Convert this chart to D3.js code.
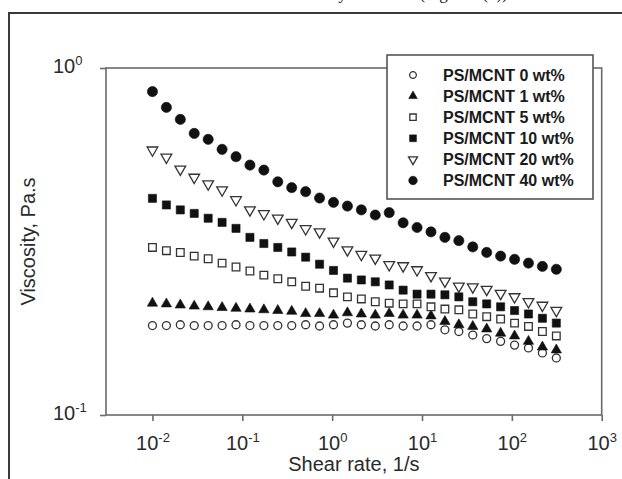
<!DOCTYPE html>
<html>
<head>
<meta charset="utf-8">
<script src="https://cdn.jsdelivr.net/npm/d3@7"></script>
<style>
  body { margin: 0; background: #fff; }
  svg { display: block; font-family: Arial, "Liberation Sans", sans-serif; }
</style>
</head>
<body>
<script>
// shear rate, 1/s (same sweep for every sample)
const shearRate = [0.0100, 0.01429, 0.02042, 0.02917, 0.04169, 0.05957, 0.08511, 0.1216, 0.1738, 0.2483,
                   0.3548, 0.5070, 0.7244, 1.035, 1.479, 2.113, 3.020, 4.315, 6.166, 8.810,
                   12.59, 17.99, 25.70, 36.73, 52.48, 74.99, 107.2, 153.1, 218.8, 312.6];

// viscosity, Pa.s
const visc0  = [0.181, 0.181, 0.182, 0.181, 0.181, 0.181, 0.182, 0.181, 0.181, 0.181,
                0.181, 0.182, 0.1805, 0.182, 0.184, 0.182, 0.1805, 0.182, 0.1805, 0.1805,
                0.182, 0.176, 0.174, 0.170, 0.166, 0.163, 0.159, 0.156, 0.151, 0.146];
const visc1  = [0.210, 0.209, 0.2075, 0.206, 0.205, 0.204, 0.203, 0.202, 0.201, 0.200,
                0.199, 0.196, 0.196, 0.194, 0.197, 0.1955, 0.194, 0.196, 0.194, 0.194,
                0.193, 0.186, 0.182, 0.180, 0.177, 0.172, 0.169, 0.163, 0.157, 0.154];
const visc5  = [0.304, 0.2975, 0.294, 0.287, 0.282, 0.274, 0.267, 0.260, 0.253, 0.247,
                0.242, 0.235, 0.232, 0.225, 0.219, 0.216, 0.212, 0.210, 0.209, 0.209,
                0.205, 0.202, 0.201, 0.1955, 0.192, 0.189, 0.184, 0.180, 0.174, 0.169];
const visc10 = [0.421, 0.403, 0.390, 0.381, 0.369, 0.359, 0.345, 0.325, 0.312, 0.304,
                0.295, 0.285, 0.272, 0.261, 0.248, 0.245, 0.242, 0.237, 0.229, 0.223,
                0.223, 0.222, 0.219, 0.212, 0.209, 0.205, 0.200, 0.1955, 0.190, 0.184];
const visc20 = [0.580, 0.553, 0.511, 0.484, 0.463, 0.445, 0.417, 0.390, 0.380, 0.369,
                0.359, 0.344, 0.337, 0.317, 0.299, 0.290, 0.283, 0.271, 0.269, 0.262,
                0.252, 0.243, 0.235, 0.234, 0.230, 0.224, 0.219, 0.212, 0.207, 0.200];
const visc40 = [0.855, 0.770, 0.711, 0.648, 0.623, 0.583, 0.555, 0.525, 0.508, 0.470,
                0.452, 0.440, 0.422, 0.410, 0.400, 0.390, 0.377, 0.383, 0.358, 0.347,
                0.337, 0.325, 0.318, 0.305, 0.294, 0.287, 0.281, 0.274, 0.268, 0.263];

const seriesLabels = ["PS/MCNT 0 wt%", "PS/MCNT 1 wt%", "PS/MCNT 5 wt%",
                      "PS/MCNT 10 wt%", "PS/MCNT 20 wt%", "PS/MCNT 40 wt%"];

// tick labels are written as 10^exp
const xTickExps = [-2, -1, 0, 1, 2, 3];
const yTickExps = [-1, 0];

// ----------------------------------------------------------- //

var width = 622, height = 479;

var svg = d3.select("body").append("svg")
    .attr("width", width)
    .attr("height", height);

svg.append("rect").attr("width", width).attr("height", height).attr("fill", "#fff");

// line of the page text cut off at the top of the scan
svg.append("text")
    .attr("x", 512).attr("y", -1)
    .attr("text-anchor", "end")
    .style("font-family", "'Liberation Serif', serif")
    .style("font-size", "17px")
    .attr("fill", "#111")
    .text("viscosity increased (Figure 4(b)).");

// frame of the figure
svg.append("path")
    .attr("d", "M9," + height + "V13H" + width)
    .attr("fill", "none")
    .attr("stroke", "#3a3a3a")
    .attr("stroke-width", 2);

// ----------------------------------------------------------- //

// scales
var x = d3.scaleLog()
    .domain([Math.pow(10, -2.517), 1000])
    .range([106, 601.7]);

var y = d3.scaleLog()
    .domain([0.1, 1])
    .range([415, 68]);

var axisColor = "#6a6a6a";

// plot box
svg.append("rect")
    .attr("x", x.range()[0]).attr("y", y.range()[1])
    .attr("width", x.range()[1] - x.range()[0])
    .attr("height", y.range()[0] - y.range()[1])
    .attr("fill", "none")
    .attr("stroke", axisColor)
    .attr("stroke-width", 1.6);

// writes "10" with a superscript exponent into a text node
function powerLabel(textSel, e) {
  textSel.text(null);
  textSel.append("tspan").text("10");
  textSel.append("tspan")
      .attr("dy", -8)
      .style("font-size", "13px")
      .text(e);
}

// x axis
var xAxis = svg.append("g")
    .attr("transform", "translate(0," + y.range()[0] + ")")
    .call(d3.axisBottom(x)
      .tickValues(xTickExps.map(e => Math.pow(10, e)))
      .tickSize(6)
      .tickSizeOuter(0)
      .tickFormat(""));

xAxis.select(".domain").remove();
xAxis.selectAll(".tick line").attr("stroke", axisColor).attr("stroke-width", 1.6);
xAxis.selectAll(".tick text")
    .attr("y", 35).attr("dy", null)
    .attr("fill", "#2a2a2a")
    .style("font-size", "20px")
    .each(function(d, i) { powerLabel(d3.select(this), xTickExps[i]); });

// y axis
var yAxis = svg.append("g")
    .attr("transform", "translate(" + x.range()[0] + ",0)")
    .call(d3.axisLeft(y)
      .tickValues(yTickExps.map(e => Math.pow(10, e)))
      .tickSize(6)
      .tickSizeOuter(0)
      .tickFormat(""));

yAxis.select(".domain").remove();
yAxis.selectAll(".tick line").attr("stroke", axisColor).attr("stroke-width", 1.6);
yAxis.selectAll(".tick text")
    .attr("x", -53).attr("dy", "0.2em")
    .attr("text-anchor", "start")
    .attr("fill", "#2a2a2a")
    .style("font-size", "20px")
    .each(function(d, i) { powerLabel(d3.select(this), yTickExps[i]); });

// axis titles
svg.append("text")
    .attr("x", (x.range()[0] + x.range()[1]) / 2)
    .attr("y", 471)
    .attr("text-anchor", "middle")
    .attr("fill", "#2a2a2a")
    .style("font-size", "20px")
    .text("Shear rate, 1/s");

svg.append("text")
    .attr("transform", "translate(35," + (y.range()[0] + y.range()[1]) / 2 + ") rotate(-90)")
    .attr("text-anchor", "middle")
    .attr("fill", "#2a2a2a")
    .style("font-size", "20px")
    .text("Viscosity, Pa.s");

// ----------------------------------------------------------- //

// marker style for each sample
var series = [
  { label: seriesLabels[0], values: visc0,  type: d3.symbolCircle,   size: 50, filled: false, rot: 0 },
  { label: seriesLabels[1], values: visc1,  type: d3.symbolTriangle, size: 46, filled: true,  rot: 0 },
  { label: seriesLabels[2], values: visc5,  type: d3.symbolSquare,   size: 58, filled: false, rot: 0 },
  { label: seriesLabels[3], values: visc10, type: d3.symbolSquare,   size: 66, filled: true,  rot: 0 },
  { label: seriesLabels[4], values: visc20, type: d3.symbolTriangle, size: 50, filled: false, rot: 180 },
  { label: seriesLabels[5], values: visc40, type: d3.symbolCircle,   size: 82, filled: true,  rot: 0 }
];

function styleMarker(sel, s) {
  sel.attr("fill", s.filled ? "#111" : "#fff")
     .attr("stroke", s.filled ? "#111" : "#333")
     .attr("stroke-width", s.filled ? 0.6 : 1.3);
}

series.forEach(function(s) {
  var sym = d3.symbol().type(s.type).size(s.size);
  svg.append("g")
      .selectAll("path")
      .data(s.values)
      .enter().append("path")
      .attr("d", sym)
      .attr("transform", (d, i) => "translate(" + x(shearRate[i]) + "," + y(d) + ") rotate(" + s.rot + ")")
      .call(styleMarker, s);
});

// ----------------------------------------------------------- //

// legend
var legend = svg.append("g");

legend.append("rect")
    .attr("x", 387).attr("y", 55)
    .attr("width", 206).attr("height", 144)
    .attr("fill", "#fff")
    .attr("stroke", "#555")
    .attr("stroke-width", 1.6);

series.forEach(function(s, i) {
  var ly = 75 + i * 21.1;
  legend.append("path")
      .attr("d", d3.symbol().type(s.type).size(s.size * 0.7))
      .attr("transform", "translate(413," + ly + ") rotate(" + s.rot + ")")
      .call(styleMarker, s);
  legend.append("text")
      .attr("x", 443).attr("y", ly + 5.5)
      .attr("fill", "#1a1a1a")
      .style("font-size", "16px")
      .style("font-weight", "bold")
      .text(s.label);
});
</script>
</body>
</html>
